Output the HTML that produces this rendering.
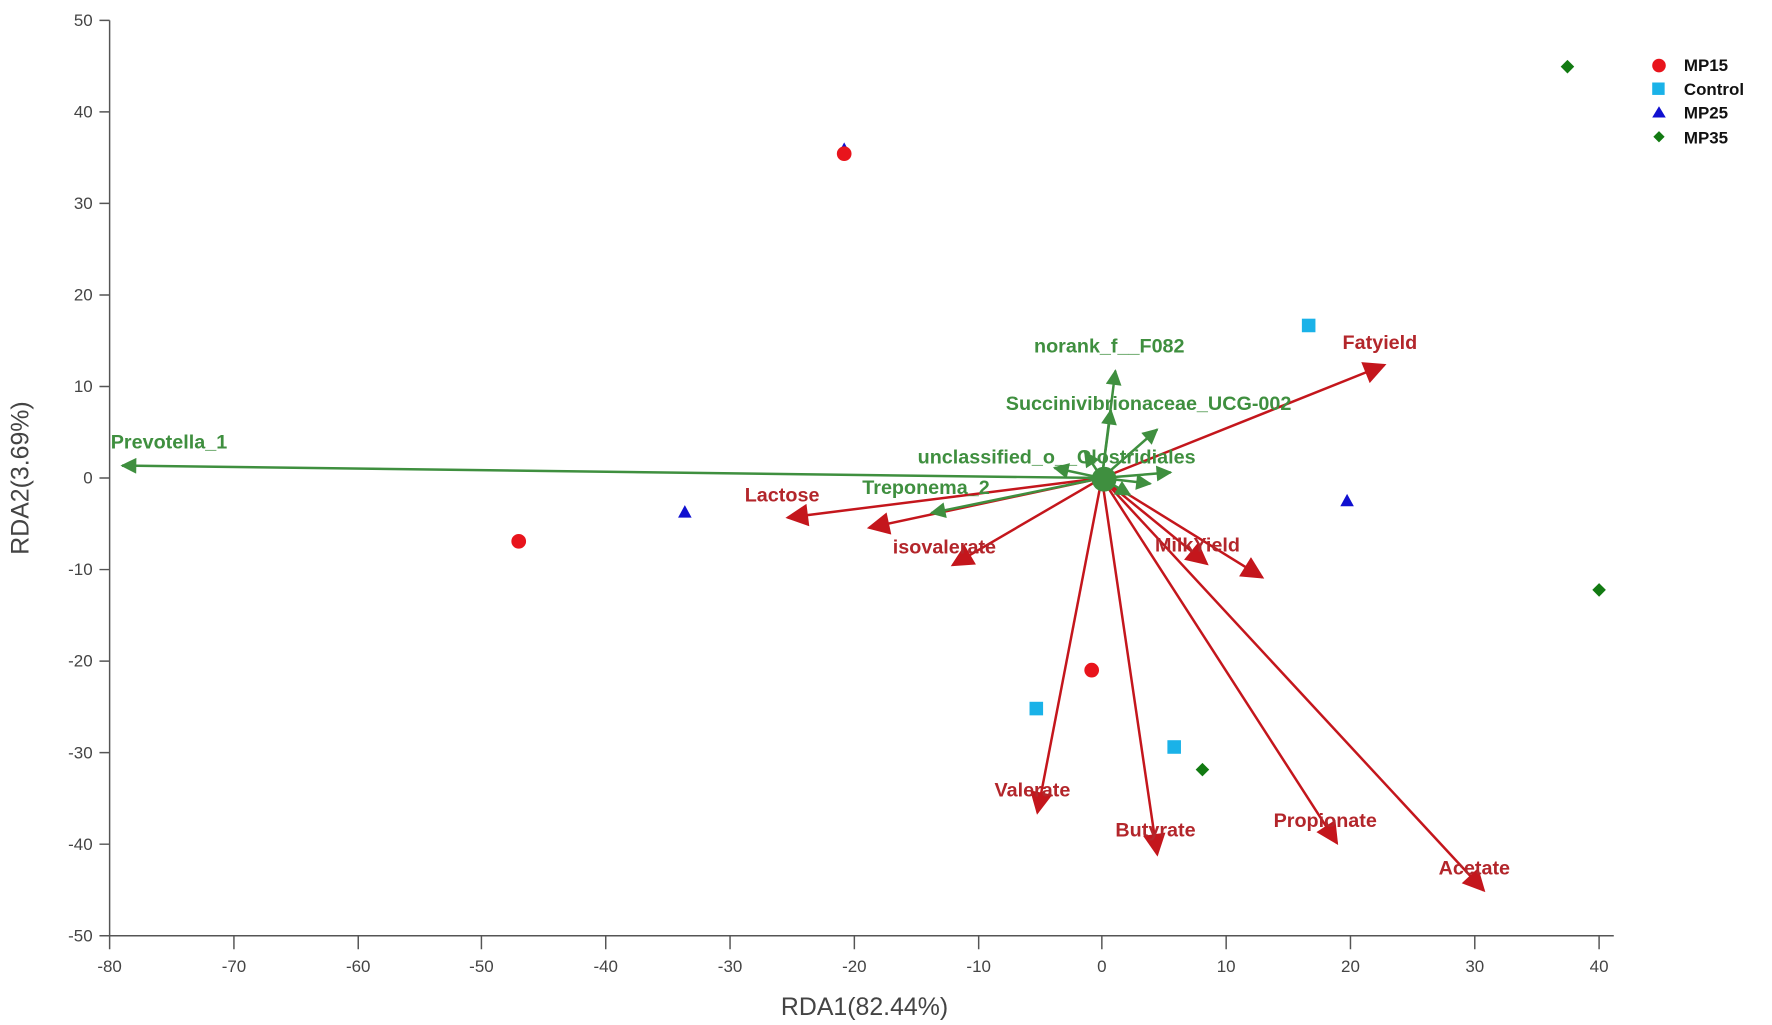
<!DOCTYPE html>
<html><head><meta charset="utf-8"><style>
html,body{margin:0;padding:0;background:#fff;}
svg{display:block;}
text{font-family:"Liberation Sans",Arial,sans-serif;}
.t{font-size:15px;fill:#444;}
.r{font-size:17.5px;font-weight:bold;fill:#b3262b;}
.g{font-size:17.5px;font-weight:bold;fill:#3f8f3f;}
.l{font-size:15px;font-weight:bold;fill:#111;}
</style></head><body>
<svg width="1772" height="1025" viewBox="0 0 1568 907" preserveAspectRatio="none" xmlns="http://www.w3.org/2000/svg">
<defs>
<marker id="mr" viewBox="0 0 10 10" refX="9" refY="5" markerWidth="22" markerHeight="20" markerUnits="userSpaceOnUse" orient="auto"><path d="M0,0 L10,5 L0,10 z" fill="#c4161c"/></marker>
<marker id="mg" viewBox="0 0 10 10" refX="9" refY="5" markerWidth="16" markerHeight="14" markerUnits="userSpaceOnUse" orient="auto"><path d="M0,0 L10,5 L0,10 z" fill="#3f8f3f"/></marker>
</defs>
<g stroke="#555" stroke-width="1.3" fill="none">
<line x1="97" y1="18" x2="97" y2="828"/>
<line x1="97" y1="828" x2="1428" y2="828"/>
<path d="M88,18H97M88,99H97M88,180H97M88,261H97M88,342H97M88,423H97M88,504H97M88,585H97M88,666H97M88,747H97M88,828H97"/>
<path d="M97,828V840M207,828V840M317,828V840M426,828V840M536,828V840M646,828V840M756,828V840M866,828V840M975,828V840M1085,828V840M1195,828V840M1305,828V840M1415,828V840"/>
</g>
<g class="t" text-anchor="end">
<text x="82" y="23">50</text><text x="82" y="104">40</text><text x="82" y="185">30</text><text x="82" y="266">20</text><text x="82" y="347">10</text><text x="82" y="428">0</text><text x="82" y="509">-10</text><text x="82" y="590">-20</text><text x="82" y="671">-30</text><text x="82" y="752">-40</text><text x="82" y="833">-50</text>
</g>
<g class="t" text-anchor="middle">
<text x="97" y="860">-80</text><text x="207" y="860">-70</text><text x="317" y="860">-60</text><text x="426" y="860">-50</text><text x="536" y="860">-40</text><text x="646" y="860">-30</text><text x="756" y="860">-20</text><text x="866" y="860">-10</text><text x="975" y="860">0</text><text x="1085" y="860">10</text><text x="1195" y="860">20</text><text x="1305" y="860">30</text><text x="1415" y="860">40</text>
</g>
<text x="765" y="898" text-anchor="middle" style="font-size:22px;fill:#444">RDA1(82.44%)</text>
<text transform="translate(25,423) rotate(-90)" text-anchor="middle" style="font-size:22px;fill:#444">RDA2(3.69%)</text>
<g stroke="#c4161c" stroke-width="2.2" marker-end="url(#mr)">
<line x1="975" y1="423" x2="1225" y2="323"/>
<line x1="975" y1="423" x2="697" y2="458"/>
<line x1="975" y1="423" x2="769" y2="467"/>
<line x1="975" y1="423" x2="843" y2="500"/>
<line x1="975" y1="423" x2="1068" y2="499"/>
<line x1="975" y1="423" x2="1117" y2="511"/>
<line x1="975" y1="423" x2="918" y2="719"/>
<line x1="975" y1="423" x2="1024" y2="756"/>
<line x1="975" y1="423" x2="1183" y2="746"/>
<line x1="975" y1="423" x2="1313" y2="788"/>
</g>
<g stroke="#3f8f3f" stroke-width="2.2" marker-end="url(#mg)">
<line x1="975" y1="423" x2="108" y2="412"/>
<line x1="975" y1="423" x2="987" y2="328"/>
<line x1="975" y1="423" x2="983" y2="363"/>
<line x1="975" y1="423" x2="1024" y2="380"/>
<line x1="975" y1="423" x2="1036" y2="418"/>
<line x1="975" y1="423" x2="1018" y2="428"/>
<line x1="975" y1="423" x2="933" y2="414"/>
<line x1="975" y1="423" x2="824" y2="454"/>
<line x1="975" y1="423" x2="960" y2="400"/>
<line x1="975" y1="423" x2="1000" y2="438"/>
</g>
<circle cx="977" cy="424" r="11" fill="#3f8f3f"/>
<g class="g">
<text x="98" y="397">Prevotella_1</text>
<text x="915" y="312">norank_f__F082</text>
<text x="890" y="363">Succinivibrionaceae_UCG-002</text>
<text x="812" y="410">unclassified_o__Clostridiales</text>
<text x="763" y="437">Treponema_2</text>
</g>
<g class="r">
<text x="1188" y="309">Fatyield</text>
<text x="659" y="444">Lactose</text>
<text x="790" y="490">isovalerate</text>
<text x="1022" y="488">MilkYield</text>
<text x="880" y="705">Valerate</text>
<text x="987" y="740">Butyrate</text>
<text x="1127" y="732">Propionate</text>
<text x="1273" y="774">Acetate</text>
</g>
<polygon points="747,126 753,137 741,137" fill="#1010d0"/>
<polygon points="606,447 612,458 600,458" fill="#1010d0"/>
<polygon points="1192,437 1198,448 1186,448" fill="#1010d0"/>
<circle cx="747" cy="136" r="6.5" fill="#e8141c"/>
<circle cx="459" cy="479" r="6.5" fill="#e8141c"/>
<circle cx="966" cy="593" r="6.5" fill="#e8141c"/>
<rect x="1152" y="282" width="12" height="12" fill="#1ab2e8"/>
<rect x="911" y="621" width="12" height="12" fill="#1ab2e8"/>
<rect x="1033" y="655" width="12" height="12" fill="#1ab2e8"/>
<polygon points="1387,53 1393,59 1387,65 1381,59" fill="#127a12"/>
<polygon points="1415,516 1421,522 1415,528 1409,522" fill="#127a12"/>
<polygon points="1064,675 1070,681 1064,687 1058,681" fill="#127a12"/>
<circle cx="1468" cy="58" r="6" fill="#e8141c"/>
<rect x="1462" y="73" width="11" height="11" fill="#1ab2e8"/>
<polygon points="1468,94 1474,104 1462,104" fill="#1010d0"/>
<polygon points="1468,116 1473,121 1468,126 1463,121" fill="#127a12"/>
<g class="l">
<text x="1490" y="63">MP15</text>
<text x="1490" y="84">Control</text>
<text x="1490" y="105">MP25</text>
<text x="1490" y="127">MP35</text>
</g>
</svg>
</body></html>
